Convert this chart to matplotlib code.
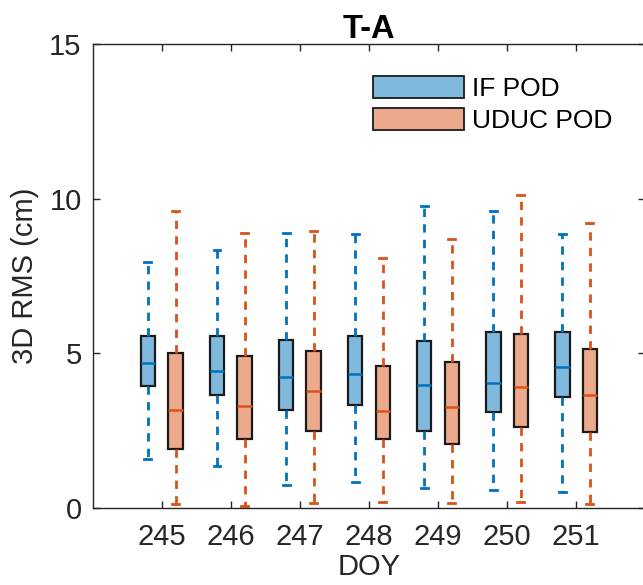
import matplotlib
matplotlib.use("Agg")
import matplotlib.pyplot as plt
from matplotlib.patches import Patch

plt.rcParams['font.family'] = ['Liberation Sans', 'DejaVu Sans']

# Day of year and box statistics (cm): lower whisker, Q1, median, Q3, upper whisker
doy = [245, 246, 247, 248, 249, 250, 251]

if_low = [1.59, 1.35, 0.75, 0.83, 0.64, 0.57, 0.53]
if_q1 = [3.96, 3.66, 3.16, 3.33, 2.50, 3.10, 3.58]
if_med = [4.68, 4.42, 4.23, 4.34, 3.98, 4.03, 4.57]
if_q3 = [5.55, 5.55, 5.44, 5.55, 5.40, 5.70, 5.68]
if_high = [7.94, 8.35, 8.89, 8.86, 9.75, 9.61, 8.86]

uduc_low = [0.14, 0.05, 0.16, 0.21, 0.16, 0.21, 0.14]
uduc_q1 = [1.92, 2.24, 2.50, 2.24, 2.07, 2.61, 2.46]
uduc_med = [3.18, 3.29, 3.77, 3.15, 3.26, 3.90, 3.66]
uduc_q3 = [5.00, 4.90, 5.08, 4.58, 4.72, 5.63, 5.15]
uduc_high = [9.61, 8.88, 8.97, 8.07, 8.68, 10.12, 9.22]

series_labels = ['IF POD', 'UDUC POD']

BLUE = '#0072BD'
BLUE_FACE = '#80B9DE'
ORANGE = '#D95319'
ORANGE_FACE = '#ECA98C'
EDGE = '#1A1A1A'
AXIS_COLOR = '#262626'

W, H = 643, 585
fig = plt.figure(figsize=(W / 100, H / 100), dpi=100)
ax = fig.add_axes([92.7 / W, (H - 508) / H, 552.5 / W, 464 / H])


def make_stats(low, q1, med, q3, high):
    return [dict(whislo=a, q1=b, med=c, q3=d, whishi=e, fliers=[])
            for a, b, c, d, e in zip(low, q1, med, q3, high)]


def draw(stats, positions, color, face):
    ax.bxp(stats, positions=positions, widths=0.21, patch_artist=True,
           showfliers=False, manage_ticks=False,
           boxprops=dict(facecolor=face, edgecolor=EDGE, linewidth=1.6),
           medianprops=dict(color=color, linewidth=1.8),
           whiskerprops=dict(color=color, linewidth=2.0,
                             linestyle=(0, (3.0, 2.6))),
           capprops=dict(color=color, linewidth=2.0),
           capwidths=0.1)


draw(make_stats(if_low, if_q1, if_med, if_q3, if_high),
     [d - 0.2 for d in doy], BLUE, BLUE_FACE)
draw(make_stats(uduc_low, uduc_q1, uduc_med, uduc_q3, uduc_high),
     [d + 0.2 for d in doy], ORANGE, ORANGE_FACE)

ax.set_xlim(244, 252)
ax.set_ylim(0, 15)
ax.set_xticks(doy)
ax.set_xticklabels([str(d) for d in doy])
ax.set_yticks([0, 5, 10, 15])

for s in ax.spines.values():
    s.set_color(AXIS_COLOR)
    s.set_linewidth(1.0)
ax.tick_params(direction='in', length=5, width=1.0, color=AXIS_COLOR,
               labelcolor=AXIS_COLOR, labelsize=21, top=True, right=True,
               pad=8)
ax.tick_params(axis='x', pad=11)

ax.set_xlabel('DOY', fontsize=21, color=AXIS_COLOR, labelpad=1.5)
ax.set_ylabel('3D RMS (cm)', fontsize=21, color=AXIS_COLOR, labelpad=7)
ax.set_title('T-A', fontsize=23.5, fontweight='bold', pad=4)

handles = [Patch(facecolor=BLUE_FACE, edgecolor=EDGE, linewidth=1.3),
           Patch(facecolor=ORANGE_FACE, edgecolor=EDGE, linewidth=1.3)]
leg = ax.legend(handles, series_labels, loc='upper left',
                bbox_to_anchor=((372.7 - 92.7) / 552.5, (508 - 76) / 464),
                frameon=False, fontsize=19, handlelength=3.45,
                handleheight=0.9, handletextpad=0.3, labelspacing=0.28,
                borderpad=0, borderaxespad=0)

fig.savefig('out.png', dpi=100)
